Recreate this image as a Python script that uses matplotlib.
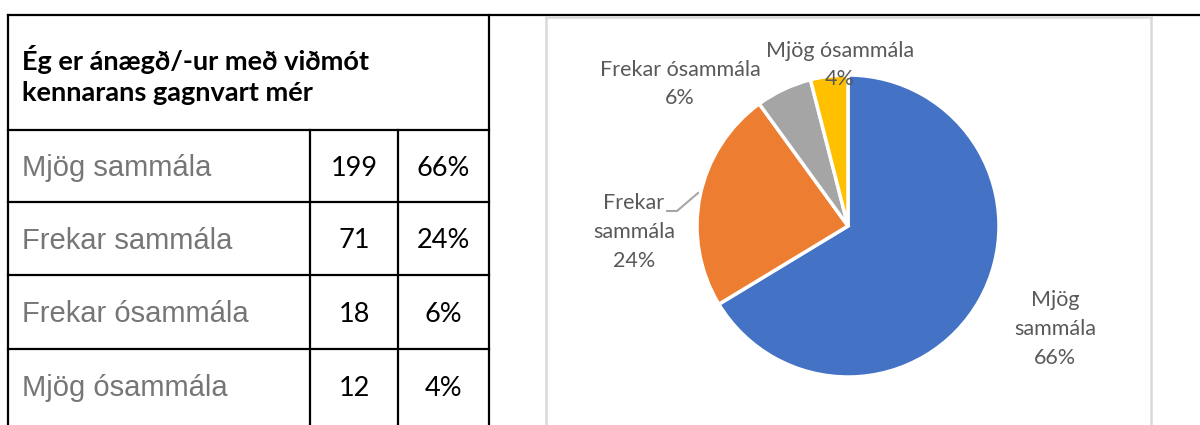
import matplotlib.pyplot as plt
from matplotlib.lines import Line2D

# Data
title_lines = ['Ég er ánægð/-ur með viðmót', 'kennarans gagnvart mér']
categories = ['Mjög sammála', 'Frekar sammála', 'Frekar ósammála', 'Mjög ósammála']
counts = [199, 71, 18, 12]
pie_labels = ['Mjög\nsammála', 'Frekar\nsammála', 'Frekar ósammála', 'Mjög ósammála']
colors = ['#4472C4', '#ED7D31', '#A5A5A5', '#FFC000']

total = sum(counts)
percents = [f'{round(c / total * 100)}%' for c in counts]

W, H = 1200, 425
fig = plt.figure(figsize=(W / 100, H / 100), dpi=100)

# pie
cx, cy, r = 848, 226, 151
pa = fig.add_axes([(cx - r) / W, (H - cy - r) / H, 2 * r / W, 2 * r / H])
pa.pie(counts, colors=colors, startangle=90, counterclock=False,
       wedgeprops=dict(edgecolor='white', linewidth=2.5))
pa.set_xlim(-1, 1)
pa.set_ylim(-1, 1)
pa.axis('off')

# overlay axes in pixel coordinates for the table and labels (on top)
ov = fig.add_axes([0, 0, 1, 1])
ov.set_xlim(0, W)
ov.set_ylim(H, 0)
ov.axis('off')
ov.set_zorder(3)

def hline(y, x0, x1, color='black', lw=1.6):
    ov.add_line(Line2D([x0, x1], [y, y], color=color, lw=lw, solid_capstyle='projecting'))

def vline(x, y0, y1, color='black', lw=1.6):
    ov.add_line(Line2D([x, x], [y0, y1], color=color, lw=lw, solid_capstyle='projecting'))

# table grid
row_edges = [130, 202, 275, 349, 424]
col_edges = [8, 310, 398, 489]
hline(15, 8, W)
for y in row_edges[:-1]:
    hline(y, col_edges[0], col_edges[-1])
vline(col_edges[0], 15, H)
vline(col_edges[-1], 15, H)
for x in col_edges[1:-1]:
    vline(x, row_edges[0], H)

# chart box
box = '#D9D9D9'
hline(16.5, 546, 1151, color=box, lw=1.8)
vline(546, 16.5, H, color=box, lw=1.8)
vline(1151, 16.5, H, color=box, lw=1.8)

# header
ov.text(22, 59, title_lines[0], fontsize=19.5, fontweight='bold', family='Lato',
        va='center', ha='left', color='black')
ov.text(22, 93, title_lines[1], fontsize=19.5, fontweight='bold', family='Lato',
        va='center', ha='left', color='black')

# rows
for i, (cat, n, p) in enumerate(zip(categories, counts, percents)):
    yc = (row_edges[i] + row_edges[i + 1]) / 2 + 2
    ov.text(22, yc, cat, fontsize=21, family='Liberation Sans', color='#767676',
            va='center', ha='left')
    ov.text((col_edges[1] + col_edges[2]) / 2, yc, str(n), fontsize=19.5, family='Lato',
            color='black', va='center', ha='center')
    ov.text((col_edges[2] + col_edges[3]) / 2, yc, p, fontsize=19.5, family='Lato',
            color='black', va='center', ha='center')

# pie data labels (pixel positions of label centres)
label_pos = [(1055, 329), (634, 232), (680, 84), (840, 65)]
for lab, p, (lx, ly) in zip(pie_labels, percents, label_pos):
    ov.text(lx, ly, f'{lab}\n{p}', fontsize=15.5, family='Lato', color='#595959',
            ha='center', va='center', linespacing=1.55)

# leader line for "Frekar sammála"
ov.add_line(Line2D([667, 677, 698], [211, 211, 193], color='#A6A6A6', lw=1.5))

fig.savefig('out.png', dpi=100)
